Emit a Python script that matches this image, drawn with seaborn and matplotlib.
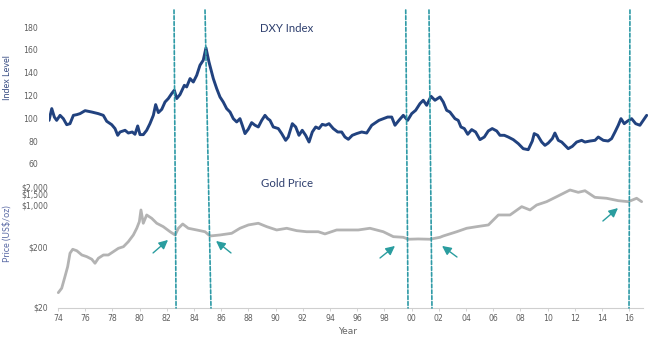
import matplotlib
matplotlib.use("Agg")
import matplotlib.pyplot as plt
import seaborn as sns
import numpy as np
import pandas as pd
from matplotlib.patches import ConnectionPatch
from matplotlib.ticker import FixedLocator, FuncFormatter

# ---------------- data ----------------
dxy_years = [1973.34, 1973.54, 1973.73, 1973.90, 1974.15, 1974.39, 1974.64, 1974.88, 1975.13, 1975.38,
             1975.62, 1975.99, 1976.48, 1976.96, 1977.33, 1977.58, 1977.95, 1978.19, 1978.39, 1978.56,
             1978.93, 1979.17, 1979.46, 1979.66, 1979.86, 1980.03, 1980.27, 1980.52, 1980.76, 1981.01,
             1981.18, 1981.38, 1981.63, 1981.87, 1982.11, 1982.36, 1982.55, 1982.73, 1982.97, 1983.29,
             1983.46, 1983.71, 1983.95, 1984.20, 1984.44, 1984.68, 1984.88, 1985.10, 1985.42, 1985.67,
             1985.91, 1986.15, 1986.40, 1986.65, 1986.89, 1987.14, 1987.38, 1987.55, 1987.75, 1987.99,
             1988.24, 1988.49, 1988.73, 1988.98, 1989.22, 1989.42, 1989.59, 1989.83, 1990.20, 1990.45,
             1990.74, 1990.93, 1991.23, 1991.48, 1991.72, 1991.96, 1992.21, 1992.46, 1992.70, 1992.95,
             1993.19, 1993.43, 1993.68, 1993.93, 1994.24, 1994.57, 1994.86, 1995.10, 1995.35, 1995.64,
             1995.96, 1996.33, 1996.70, 1997.07, 1997.31, 1997.60, 1997.92, 1998.24, 1998.54, 1998.78,
             1999.07, 1999.39, 1999.71, 2000.01, 2000.30, 2000.62, 2000.86, 2001.11, 2001.43, 2001.72,
             2002.09, 2002.33, 2002.58, 2002.82, 2003.19, 2003.43, 2003.63, 2003.88, 2004.13, 2004.42,
             2004.71, 2005.03, 2005.35, 2005.64, 2005.93, 2006.26, 2006.50, 2006.82, 2007.11, 2007.48,
             2007.85, 2008.21, 2008.58, 2008.88, 2009.02, 2009.27, 2009.57, 2009.81, 2010.05, 2010.35,
             2010.54, 2010.79, 2011.04, 2011.28, 2011.52, 2011.82, 2012.14, 2012.51, 2012.75, 2013.12,
             2013.49, 2013.73, 2014.10, 2014.46, 2014.71, 2014.96, 2015.20, 2015.40, 2015.64, 2015.89,
             2016.18, 2016.48, 2016.79, 2017.04, 2017.29]
dxy_values = [98.2, 108.5, 101.1, 98.2, 102.6, 99.7, 94.4, 95.3, 102.6, 103.2,
              104.1, 106.7, 105.5, 104.1, 102.6, 97.4, 94.4, 91.0, 85.1, 88.0,
              89.5, 87.1, 88.0, 86.0, 93.3, 85.7, 85.7, 89.5, 95.3, 102.6,
              112.0, 105.0, 107.9, 114.3, 117.3, 121.7, 124.6, 117.3, 120.8, 128.9,
              127.5, 134.8, 131.8, 137.7, 146.5, 150.9, 161.7, 149.4, 134.8, 126.0,
              118.7, 114.3, 108.5, 105.5, 99.7, 96.8, 99.7, 93.9, 86.6, 90.4,
              96.2, 93.9, 92.4, 98.2, 102.6, 99.7, 98.2, 92.4, 91.0, 86.6,
              80.7, 83.6, 95.3, 92.4, 85.1, 89.5, 85.1, 79.2, 88.0, 92.4,
              91.0, 94.7, 93.9, 95.3, 91.0, 88.0, 88.0, 83.6, 81.6, 85.1,
              86.6, 88.0, 87.1, 93.9, 95.9, 98.2, 99.7, 101.1, 101.1, 93.9,
              98.2, 102.6, 98.2, 104.1, 107.0, 112.9, 115.8, 111.4, 119.3, 115.8,
              118.7, 114.3, 107.0, 105.5, 99.7, 98.2, 92.4, 91.0, 86.0, 90.1,
              88.0, 81.3, 83.6, 88.9, 91.0, 88.9, 85.1, 85.1, 83.6, 81.3,
              77.8, 73.4, 72.5, 80.1, 86.6, 85.1, 79.2, 76.3, 78.3, 82.2,
              87.1, 80.7, 79.2, 76.3, 73.4, 75.4, 79.2, 80.7, 79.2, 80.1,
              80.7, 83.6, 80.7, 80.1, 82.2, 88.0, 93.9, 99.7, 95.3, 97.6,
              99.7, 95.3, 93.9, 98.2, 102.6]

gold_years = [1974.02, 1974.27, 1974.51, 1974.71, 1974.88, 1975.08, 1975.38, 1975.75, 1976.11, 1976.48,
              1976.72, 1976.97, 1977.34, 1977.70, 1978.07, 1978.44, 1978.81, 1979.17, 1979.54, 1979.79,
              1979.98, 1980.10, 1980.27, 1980.52, 1980.89, 1981.26, 1981.74, 1982.24, 1982.61, 1982.85,
              1983.17, 1983.58, 1984.20, 1984.81, 1985.18, 1985.91, 1986.77, 1987.38, 1988.00, 1988.73,
              1989.35, 1990.08, 1990.82, 1991.55, 1992.29, 1993.14, 1993.63, 1994.49, 1995.35, 1996.08,
              1996.94, 1997.92, 1998.66, 1999.39, 1999.76, 2000.49, 2001.35, 2002.09, 2002.33, 2003.32,
              2004.05, 2004.79, 2005.65, 2006.38, 2007.24, 2008.10, 2008.71, 2009.20, 2009.93, 2010.67,
              2011.65, 2012.26, 2012.75, 2013.48, 2014.34, 2015.20, 2015.94, 2016.55, 2016.92]
gold_values = [34.6, 41, 64, 94, 157, 183, 173, 147, 138, 125,
               107, 130, 147, 147, 167, 190, 202, 245, 317, 410,
               528, 828, 497, 683, 601, 497, 436, 359, 317, 410,
               483, 410, 384, 359, 305, 317, 338, 410, 466, 497,
               436, 384, 410, 374, 359, 359, 330, 384, 384, 384,
               410, 359, 297, 290, 269, 272, 269, 290, 305, 359,
               410, 436, 466, 683, 683, 940, 828, 1002, 1138, 1378,
               1783, 1630, 1733, 1345, 1297, 1183, 1138, 1297, 1138]

event_years_top = [1982.53, 1984.81, 1999.57, 2001.28, 2016.06]
event_years_bottom = [1982.68, 1985.25, 1999.74, 2001.50, 2015.99]

arrow_tail_years = [1980.99, 1986.72, 1997.68, 2003.34, 2014.07]
arrow_tail_values = [159, 159, 131, 136, 542]
arrow_head_years = [1982.09, 1985.62, 1998.78, 2002.24, 2015.18]
arrow_head_values = [262, 252, 208, 208, 891]

dxy_ticks = [60, 80, 100, 120, 140, 160, 180]
gold_ticks = [20, 200, 1000, 1500, 2000]
gold_tick_labels = ["$20", "$200", "$1,000", "$1,500", "$2,000"]
year_ticks = list(range(1974, 2017, 2))

dxy_df = pd.DataFrame({"year": dxy_years, "value": dxy_values})
gold_df = pd.DataFrame({"year": gold_years, "value": gold_values})

# ---------------- style ----------------
sns.set_theme(style="white")
plt.rcParams["font.family"] = ["DejaVu Sans"]

W, H = 648, 338
fig = plt.figure(figsize=(W / 100, H / 100), dpi=100)

xlim = (1973.3, 2017.35)
left = 48.5 / W
width = (647.5 - 48.5) / W

ax_top = fig.add_axes([left, 1 - 170 / H, width, 160 / H])
ax_bot = fig.add_axes([left, 1 - 308 / H, width, (308 - 172) / H])
for ax in (ax_top, ax_bot):
    ax.set_facecolor("none")
    ax.set_xlim(*xlim)
    for s in ax.spines.values():
        s.set_visible(False)

navy = "#21427f"
gray_line = "#b3b3b3"
teal = "#2e9aa6"
tick_col = "#5f5f5f"

# DXY
sns.lineplot(data=dxy_df, x="year", y="value", ax=ax_top, color=navy, linewidth=2.1,
             estimator=None, sort=False)
ax_top.set_ylim(54.7, 194.9)
ax_top.set_yticks(dxy_ticks)
ax_top.set_xticks([])
ax_top.set_xlabel("")
ax_top.set_ylabel("Index Level", color="#3b4f85", fontsize=6.5, fontfamily="Lato")
ax_top.tick_params(axis="y", length=0, pad=7.5, labelsize=5.6, labelcolor=tick_col)
ax_top.text(1990.84, 178.3, "DXY Index", ha="center", va="center", fontsize=8.2,
            color="#2e3f6e", fontfamily="Lato")

# Gold
sns.lineplot(data=gold_df, x="year", y="value", ax=ax_bot, color=gray_line, linewidth=2.0,
             estimator=None, sort=False)
ax_bot.set_yscale("log")
ax_bot.set_ylim(19.2, 3557)
ax_bot.yaxis.set_major_locator(FixedLocator(gold_ticks))
ax_bot.yaxis.set_minor_locator(FixedLocator([]))
ax_bot.set_yticklabels(gold_tick_labels)
ax_bot.set_xticks(year_ticks)
ax_bot.xaxis.set_major_formatter(FuncFormatter(lambda v, p: f"{int(round(v)) % 100:02d}"))
ax_bot.tick_params(axis="y", length=0, pad=0.5, labelsize=5.6, labelcolor=tick_col)
ax_bot.tick_params(axis="x", length=2, width=0.6, color="#cccccc", pad=2.5,
                   labelsize=5.6, labelcolor=tick_col, direction="out", bottom=True)
ax_bot.spines["bottom"].set_visible(True)
ax_bot.spines["bottom"].set_color("#cfcfcf")
ax_bot.spines["bottom"].set_linewidth(0.8)
ax_bot.spines["bottom"].set_bounds(1974, 2017)
ax_bot.set_xlabel("Year", fontsize=6.5, color="#666666", labelpad=3)
ax_bot.set_ylabel("Price (US$/oz)", color="#5a6aa5", fontsize=6.5, fontfamily="Lato")
ax_bot.text(1990.84, 2244, "Gold Price", ha="center", va="center", fontsize=8.2,
            color="#2e3f6e", fontfamily="Lato")

ax_top.yaxis.set_label_coords(-0.061, 0.58)
ax_bot.yaxis.set_label_coords(-0.061, 0.544)

# event lines spanning both panels
for xt, xb in zip(event_years_top, event_years_bottom):
    con = ConnectionPatch(xyA=(xt, 194.9), coordsA=ax_top.transData,
                          xyB=(xb, 19.2), coordsB=ax_bot.transData,
                          color=teal, linewidth=1.2, linestyle=(0, (2.2, 1.3)), zorder=5)
    fig.add_artist(con)

# arrows
for tx, tv, hx, hv in zip(arrow_tail_years, arrow_tail_values, arrow_head_years, arrow_head_values):
    ax_bot.annotate("", xy=(hx, hv), xytext=(tx, tv),
                    arrowprops=dict(arrowstyle="-|>,head_length=0.45,head_width=0.22",
                                    color="#2a9d9f", linewidth=1.0, shrinkA=0, shrinkB=0))

fig.savefig("out.png", dpi=100)
